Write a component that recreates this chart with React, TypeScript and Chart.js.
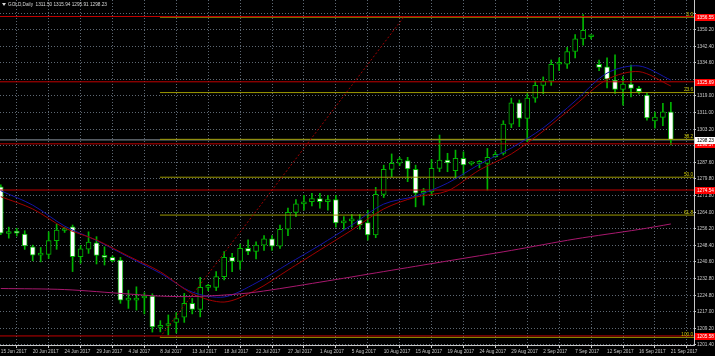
import React, { useEffect, useRef } from 'react';
import { Chart, registerables } from 'chart.js';
Chart.register(...registerables);

const title = 'GOLD,Daily  1311.50 1315.94 1295.91 1298.23';
const dateLabels = ['15 Jun 2017','20 Jun 2017','24 Jun 2017','29 Jun 2017','4 Jul 2017','8 Jul 2017','13 Jul 2017','18 Jul 2017','22 Jul 2017','27 Jul 2017','1 Aug 2017','5 Aug 2017','10 Aug 2017','15 Aug 2017','19 Aug 2017','24 Aug 2017','29 Aug 2017','2 Sep 2017','7 Sep 2017','12 Sep 2017','16 Sep 2017','21 Sep 2017'];
const yTicks = [1201.4,1209.2,1217.0,1224.8,1232.8,1240.6,1248.4,1256.2,1264.0,1271.8,1279.8,1287.6,1295.4,1303.2,1311.0,1319.0,1326.8,1334.6,1342.4,1350.2,1358.0];

const opens = [1276.1,1254.0,1254.6,1253.7,1247.7,1243.8,1244.1,1250.6,1255.4,1257.2,1243.0,1246.6,1249.6,1243.6,1242.7,1241.4,1222.5,1222.5,1223.5,1224.4,1209.6,1210.5,1212.0,1214.4,1221.0,1218.1,1228.5,1228.5,1233.6,1242.7,1240.8,1247.0,1245.5,1248.5,1251.5,1248.0,1256.0,1264.0,1268.0,1269.0,1270.5,1269.0,1270.0,1259.0,1260.0,1260.5,1259.1,1253.3,1272.5,1284.3,1287.2,1288.4,1284.3,1273.0,1273.7,1284.8,1288.7,1283.7,1289.5,1286.9,1287.1,1287.1,1290.3,1291.9,1305.7,1315.8,1308.4,1318.0,1324.0,1326.0,1334.0,1334.0,1340.0,1346.0,1347.0,1334.0,1332.8,1326.5,1322.1,1324.6,1322.6,1319.4,1307.2,1308.9,1311.5];
const highs = [1277.0,1257.0,1256.5,1255.3,1248.5,1247.4,1254.8,1258.4,1256.8,1258.0,1248.4,1254.8,1252.5,1247.7,1243.5,1242.7,1227.2,1228.8,1226.0,1225.5,1212.8,1215.5,1216.6,1225.7,1223.3,1233.3,1230.0,1236.0,1245.4,1244.6,1249.0,1251.0,1250.0,1253.0,1253.0,1258.0,1266.0,1270.0,1272.0,1273.0,1273.0,1272.0,1272.0,1262.0,1263.0,1263.0,1265.0,1275.8,1286.3,1291.6,1290.0,1290.0,1286.3,1275.3,1289.0,1300.5,1291.9,1293.4,1292.6,1288.0,1288.5,1294.2,1292.6,1307.3,1318.0,1317.1,1320.0,1326.0,1328.0,1336.0,1337.0,1342.0,1348.0,1357.5,1348.0,1336.0,1337.0,1338.4,1328.1,1333.6,1323.5,1320.5,1311.4,1315.5,1315.94];
const lows = [1253.5,1251.8,1252.8,1246.5,1241.1,1240.6,1242.2,1246.5,1254.5,1236.0,1239.9,1244.6,1239.6,1239.1,1240.5,1221.0,1218.6,1217.8,1216.0,1207.4,1207.5,1206.0,1207.0,1212.0,1216.0,1214.6,1227.0,1227.0,1232.0,1236.0,1237.0,1244.0,1242.0,1246.0,1246.0,1247.0,1253.0,1262.0,1265.0,1267.0,1266.0,1265.0,1257.0,1256.0,1257.0,1256.0,1250.9,1252.0,1271.0,1280.8,1286.0,1278.5,1266.6,1267.4,1272.0,1283.2,1283.2,1280.0,1281.6,1286.3,1285.0,1274.5,1290.0,1291.1,1304.0,1304.5,1297.4,1316.0,1320.0,1324.0,1331.0,1332.0,1337.0,1343.0,1346.0,1331.0,1322.8,1320.2,1314.7,1318.6,1320.0,1307.5,1303.8,1305.0,1295.91];
const closes = [1254.1,1254.6,1254.2,1248.1,1243.8,1244.2,1250.6,1255.6,1255.8,1243.0,1246.8,1249.9,1243.6,1242.7,1241.1,1222.5,1223.0,1223.5,1224.4,1209.9,1210.2,1211.3,1213.8,1221.0,1218.1,1228.5,1229.0,1233.6,1242.7,1240.8,1247.0,1245.5,1248.5,1251.5,1248.0,1256.0,1264.0,1268.0,1269.0,1270.5,1269.0,1270.0,1259.0,1260.0,1260.5,1258.0,1253.3,1272.5,1284.3,1287.1,1289.2,1284.5,1273.0,1273.5,1284.8,1288.7,1287.4,1289.5,1286.4,1287.3,1287.6,1290.0,1291.4,1305.7,1315.8,1308.4,1318.0,1324.0,1326.0,1334.0,1334.5,1340.0,1346.0,1350.0,1347.3,1332.5,1326.9,1322.1,1324.6,1322.6,1321.0,1308.6,1309.0,1311.5,1298.23];

const maBars = [0,4,8,12,16,20,24,28,32,36,40,44,48,52,56,60,64,68,72,76,80,84];
const maBlue = [1274.2,1267.4,1257.5,1250.7,1242.9,1235.2,1226.3,1224.0,1230.6,1239.6,1248.5,1258.0,1267.9,1271.7,1277.8,1286.7,1294.4,1303.9,1316.6,1329.8,1333.2,1326.5];
const maRed = [1271.4,1265.6,1256.6,1250.9,1243.3,1235.9,1225.6,1221.6,1227.3,1236.7,1246.2,1255.6,1265.6,1271.2,1274.1,1284.0,1291.6,1302.4,1314.7,1326.8,1330.5,1323.7];
const maSlowBars = [0,8,16,20,24,28,32,40,48,56,64,72,80,84];
const maSlow = [1228.0,1227.5,1225.4,1224.4,1224.2,1224.9,1226.3,1231.0,1236.0,1241.0,1246.0,1251.4,1255.9,1258.5];

const redLevels = [1356.55, 1325.69, 1296.37, 1274.54, 1205.58];
const bidPrice = 1298.23;
const fibNames = ['0.0','23.6','38.2','50.0','61.8','100.0'];
const fibPrices = [1356.2, 1320.6, 1298.5, 1280.6, 1262.7, 1204.9];
const fibStartBar = 19.95;
const trendFrom = [19.95, 1204.9];
const trendTo = [50.5, 1356.2];

const X_MIN = -0.1, X_MAX = 86.9, Y_MIN = 1201.3, Y_MAX = 1364.35;
const FONT = 'Liberation Sans';

const overlay = {
  id: 'overlay',
  afterDatasetsDraw(chart: any) {
    const { ctx, chartArea, scales } = chart;
    const y = scales.y;
    ctx.save();
    ctx.font = `4.7px "${FONT}"`;
    ctx.fillStyle = '#c8c400';
    ctx.textAlign = 'right';
    ctx.textBaseline = 'bottom';
    fibPrices.forEach((p, i) => ctx.fillText(fibNames[i], chartArea.right - 1, y.getPixelForValue(p) - 0.5));
    ctx.restore();
  },
  afterDraw(chart: any) {
    const { ctx, chartArea, scales, width } = chart;
    const y = scales.y;
    ctx.save();
    ctx.font = `4.7px "${FONT}"`;
    ctx.textBaseline = 'middle';
    ctx.textAlign = 'left';
    const box = (p: number, bg: string, fg: string) => {
      const py = y.getPixelForValue(p);
      ctx.fillStyle = bg;
      ctx.fillRect(chartArea.right + 1, Math.round(py) - 3, width - chartArea.right - 1, 7);
      ctx.fillStyle = fg;
      ctx.fillText(p.toFixed(2), chartArea.right + 3, Math.round(py) + 0.5);
    };
    redLevels.forEach((p) => box(p, '#ff0000', '#ffffff'));
    box(bidPrice, '#ffffff', '#000000');
    ctx.fillStyle = '#d8d8d8';
    ctx.beginPath();
    ctx.moveTo(2, 3); ctx.lineTo(6, 3); ctx.lineTo(4, 6); ctx.closePath(); ctx.fill();
    ctx.fillText(title, 8, 5);
    ctx.restore();
  },
};

const hidden = (v: number) => redLevels.concat([bidPrice]).some((p) => Math.abs(p - v) < 2.5);

export default function App() {
  const ref = useRef<HTMLCanvasElement>(null);
  useEffect(() => {
    const n = opens.length;
    const idx = Array.from({ length: n }, (_, i) => i);
    const line = (pts: { x: number; y: number }[], color: string, extra: any = {}) => ({
      type: 'line', data: pts, borderColor: color, borderWidth: 1, pointRadius: 0, fill: false, tension: 0, order: 0, ...extra,
    });
    const datasets: any[] = [
      line([{ x: X_MIN, y: bidPrice }, { x: X_MAX, y: bidPrice }], '#8c96a0', { order: 6 }),
      {
        type: 'bar', data: idx.map((i) => ({ x: i, y: [lows[i], highs[i]] })), backgroundColor: '#00b400',
        barThickness: 1, grouped: false, order: 5, minBarLength: 1,
      },
      {
        type: 'bar', data: idx.map((i) => ({ x: i, y: [opens[i], closes[i]] })),
        backgroundColor: idx.map((i) => (closes[i] < opens[i] ? '#ffffff' : '#000000')),
        borderColor: '#00b400', borderWidth: 1, borderSkipped: false, barThickness: 5, grouped: false, order: 4, minBarLength: 2,
      },
      line(maSlowBars.map((b, i) => ({ x: b, y: maSlow[i] })), '#a8186e', { tension: 0.3 }),
      line(maBars.map((b, i) => ({ x: b, y: maRed[i] })), '#a00000', { tension: 0.3 }),
      line(maBars.map((b, i) => ({ x: b, y: maBlue[i] })), '#1414a8', { tension: 0.3 }),
      ...fibPrices.map((p) => line([{ x: fibStartBar, y: p }, { x: X_MAX, y: p }], '#9c9800', { order: 2 })),
      ...redLevels.map((p) => line([{ x: X_MIN, y: p }, { x: X_MAX, y: p }], '#c00000', { order: 1 })),
      line([{ x: trendFrom[0], y: trendFrom[1] }, { x: trendTo[0], y: trendTo[1] }], '#a00000', { borderDash: [2, 2], order: 1 }),
    ];
    const chart = new Chart(ref.current as HTMLCanvasElement, {
      type: 'bar',
      data: { datasets },
      options: {
        animation: false,
        responsive: false,
        devicePixelRatio: 1,
        layout: { padding: 0 },
        plugins: { legend: { display: false }, tooltip: { enabled: false }, title: { display: false } },
        scales: {
          x: {
            type: 'linear', min: X_MIN, max: X_MAX, position: 'bottom', offset: false,
            afterBuildTicks: (s: any) => { s.ticks = dateLabels.map((_, i) => ({ value: i * 4 })); },
            afterFit: (s: any) => { s.height = 11; s.paddingLeft = 0; s.paddingRight = 0; },
            ticks: {
              autoSkip: false, maxRotation: 0, minRotation: 0, align: 'start', padding: 1, color: '#c8c8c8',
              font: { size: 4.7, family: FONT }, callback: (v: any) => dateLabels[Math.round(v / 4)] ?? '',
            },
            grid: { color: '#5e6873', tickLength: 3, tickColor: '#c8c8c8', drawTicks: true },
            border: { display: true, color: '#c8c8c8', dash: [1, 2] },
          },
          y: {
            type: 'linear', min: Y_MIN, max: Y_MAX, position: 'right',
            afterBuildTicks: (s: any) => { s.ticks = yTicks.map((v) => ({ value: v })); },
            afterFit: (s: any) => { s.width = 21; s.paddingTop = 0; s.paddingBottom = 0; },
            ticks: {
              padding: 1, color: '#c8c8c8', font: { size: 4.7, family: FONT },
              callback: (v: any) => (hidden(v) ? '' : Number(v).toFixed(2)),
            },
            grid: { color: '#5e6873', tickLength: 2, tickColor: '#c8c8c8' },
            border: { display: true, color: '#c8c8c8', dash: [1, 2] },
          },
        },
      } as any,
      plugins: [overlay],
    } as any);
    return () => chart.destroy();
  }, []);
  return (
    <div style={{ width: 715, height: 356, background: '#000', position: 'relative' }}>
      <style>{'body{margin:0;background:#000}'}</style>
      <canvas ref={ref} width={715} height={356} style={{ display: 'block' }} />
    </div>
  );
}
